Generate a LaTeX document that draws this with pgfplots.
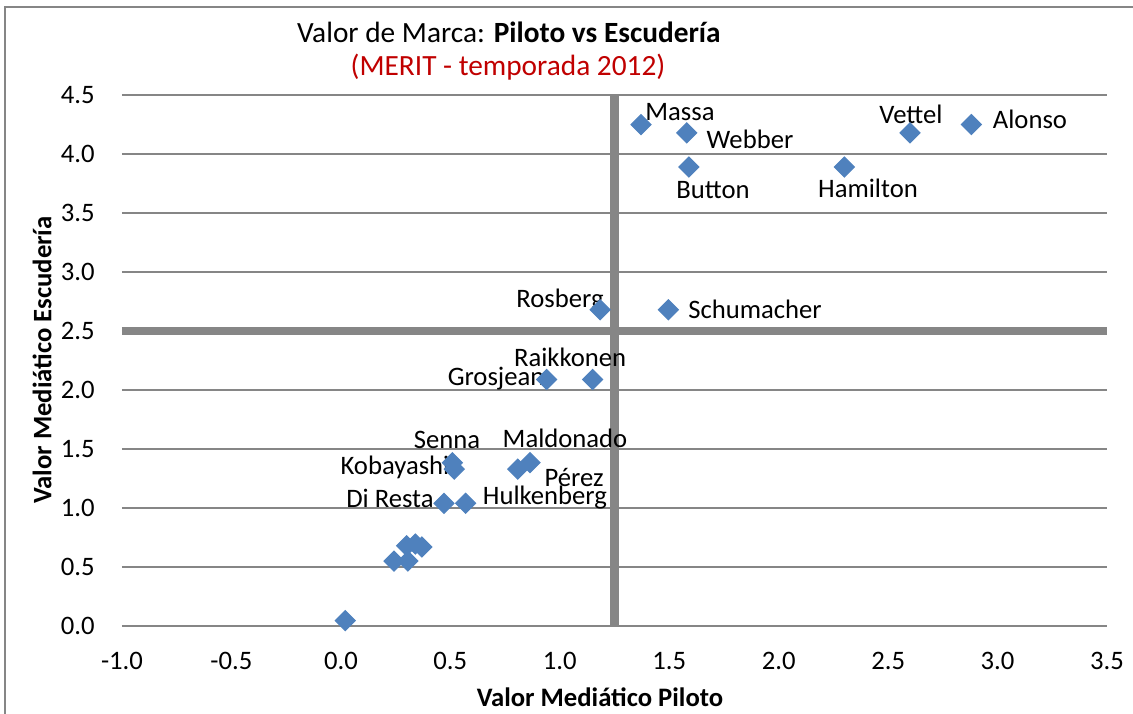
\documentclass[border=0pt]{standalone}
\usepackage{pgfplots}
\pgfplotsset{compat=1.18}
\usepackage{fontspec}
\setmainfont{Carlito}
\definecolor{mblue}{HTML}{4F81BD}
\definecolor{gridg}{HTML}{868686}
\definecolor{titred}{HTML}{C00000}
\begin{document}
\begin{tikzpicture}
\fontsize{10}{12}\selectfont
\useasboundingbox (-45.75pt,-32.625pt) rectangle (379.125pt,234.75pt);
\draw[gridg, line width=0.6pt] (-43.875pt,-40pt) -- (-43.875pt,232.1pt) -- (380pt,232.1pt);
\begin{axis}[
  scale only axis,
  width=369.4pt, height=199.1pt,
  xmin=-1, xmax=3.5, ymin=0, ymax=4.5,
  xtick={-1,-0.5,0,0.5,1,1.5,2,2.5,3,3.5},
  xticklabels={-1.0,-0.5,0.0,0.5,1.0,1.5,2.0,2.5,3.0,3.5},
  ytick={0,0.5,1,1.5,2,2.5,3,3.5,4,4.5},
  yticklabels={0.0,0.5,1.0,1.5,2.0,2.5,3.0,3.5,4.0,4.5},
  ymajorgrids,
  major grid style={gridg, line width=0.6pt},
  axis line style={draw=none},
  major tick length=0pt,
  tick style={draw=none},
  xticklabel style={anchor=center, yshift=-13pt, font=\fontsize{10}{12}\selectfont},
  yticklabel style={anchor=east, inner sep=0pt, xshift=-10.1pt, font=\fontsize{10}{12}\selectfont},
  clip=false,
]
\addplot[gridg, line width=3.3pt, forget plot] coordinates {(1.25,0) (1.25,4.5)};
\addplot[gridg, line width=3.3pt, forget plot] coordinates {(-1,2.5) (3.5,2.5)};
\addplot[only marks, mark=square*, mark size=2.65pt, mark options={rotate=45, fill=mblue, draw=mblue}] coordinates {
(2.88,4.25) (2.60,4.18) (1.371,4.25) (1.58,4.18) (1.59,3.89) (2.30,3.89)
(1.184,2.68) (1.496,2.68) (0.94,2.09) (1.15,2.09)
(0.509,1.384) (0.518,1.33) (0.864,1.384) (0.808,1.33)
(0.471,1.04) (0.57,1.04)
(0.243,0.55) (0.306,0.55) (0.30,0.68) (0.34,0.695) (0.37,0.67)
(0.02,0.045)
};
\node at (axis cs:3.148,4.297) {Alonso};
\node at (axis cs:2.604,4.339) {Vettel};
\node at (axis cs:1.549,4.356) {Massa};
\node at (axis cs:1.869,4.127) {Webber};
\node at (axis cs:1.700,3.695) {Button};
\node at (axis cs:2.408,3.712) {Hamilton};
\node at (axis cs:1.001,2.760) {Rosberg};
\node at (axis cs:1.892,2.686) {Schumacher};
\node at (axis cs:1.047,2.280) {Raikkonen};
\node at (axis cs:0.709,2.093) {Grosjean};
\node at (axis cs:0.485,1.576) {Senna};
\node at (axis cs:0.247,1.347) {Kobayashi};
\node at (axis cs:1.024,1.593) {Maldonado};
\node at (axis cs:1.065,1.263) {Pérez};
\node at (axis cs:0.932,1.090) {Hulkenberg};
\node at (axis cs:0.224,1.085) {Di Resta};
\end{axis}
\node at (145.1pt,222.75pt) {\fontsize{11}{13}\selectfont Valor de Marca: \textbf{Piloto vs Escudería}};
\node[text=titred] at (144.75pt,209.6pt) {\fontsize{11}{13}\selectfont (MERIT - temporada 2012)};
\node at (179.25pt,-26.6pt) {\bfseries Valor Mediático Piloto};
\node[rotate=90] at (-30pt,99.75pt) {\bfseries Valor Mediático Escudería};
\end{tikzpicture}
\end{document}
